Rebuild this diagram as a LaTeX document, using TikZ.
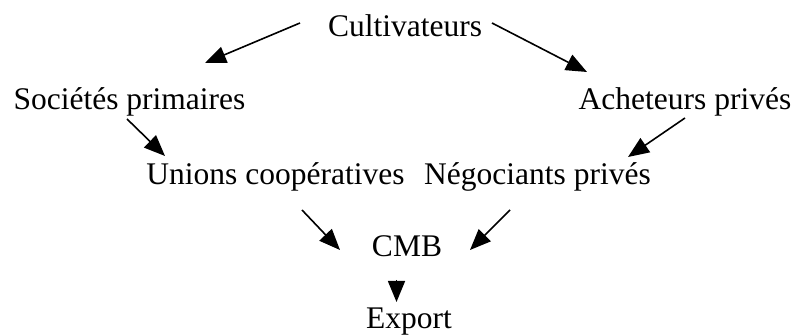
\documentclass[tikz,border=0pt]{standalone}
\usepackage{fontspec}
\setmainfont{Liberation Serif}
\usetikzlibrary{arrows.meta}
\tikzset{
  actor/.style={inner sep=0pt,anchor=base,font=\fontsize{31.5}{37}\selectfont},
  flow/.style={-{Triangle[length=21pt,width=17pt]},black,line width=1.6pt},
}
\begin{document}
\begin{tikzpicture}[x=1pt,y=1pt]
\useasboundingbox (0,0) rectangle (795,336);
\node[actor] (cult) at (405,299) {Cultivateurs};
\node[actor] (soc) at (129.5,226) {Sociétés primaires};
\node[actor] (ach) at (685,226) {Acheteurs privés};
\node[actor] (uni) at (275.5,151) {Unions coopératives};
\node[actor] (neg) at (537.5,151) {Négociants privés};
\node[actor] (cmb) at (407,79) {CMB};
\node[actor] (exp) at (409,7) {Export};
\draw[flow] ([shift={(-105,14)}]cult.base) -- ([shift={(75.5,47)}]soc.base);
\draw[flow] ([shift={(87,14)}]cult.base) -- ([shift={(-98,38)}]ach.base);
\draw[flow] ([shift={(-2.5,-9)}]soc.base) -- ([shift={(-110.5,29)}]uni.base);
\draw[flow] ([shift={(0,-8)}]ach.base) -- ([shift={(90.5,28)}]neg.base);
\draw[flow] ([shift={(26.5,-25)}]uni.base) -- ([shift={(-67,7)}]cmb.base);
\draw[flow] ([shift={(-27.5,-25)}]neg.base) -- ([shift={(63,7)}]cmb.base);
\draw[flow] ([shift={(-10.5,-23)}]cmb.base) -- ([shift={(-12.5,27)}]exp.base);
\end{tikzpicture}
\end{document}
